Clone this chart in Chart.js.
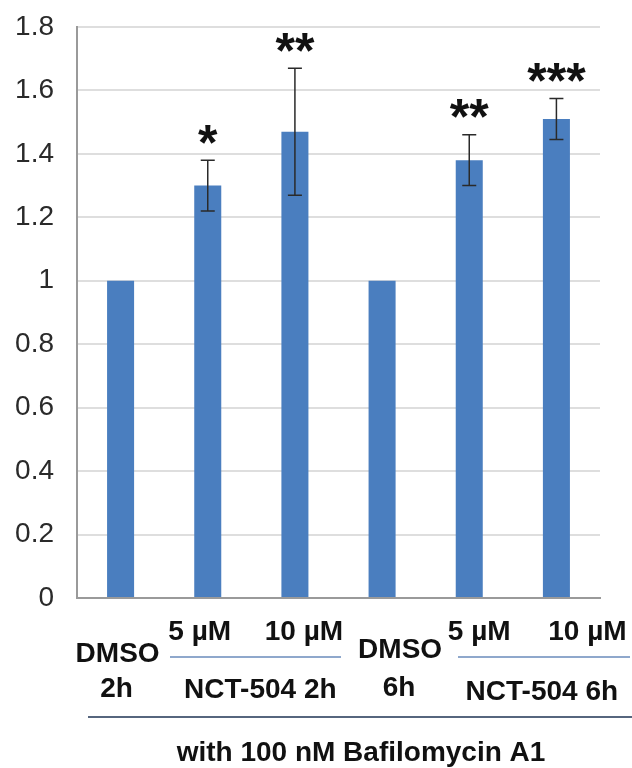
<!DOCTYPE html>
<html>
<head>
<meta charset="utf-8">
<script src="https://cdn.jsdelivr.net/npm/chart.js@4/dist/chart.umd.min.js"></script>
<style>
  html, body { margin: 0; padding: 0; background: #fff; }
  #wrap { width: 632px; height: 768px; }
</style>
</head>
<body>
<div id="wrap"><canvas id="chart" width="632" height="768"></canvas></div>
<script>
// groups along the x axis
const categories = ['DMSO 2h', '5 µM 2h', '10 µM 2h', 'DMSO 6h', '5 µM 6h', '10 µM 6h'];
// relative levels (fold vs DMSO) and their error
const means = [1, 1.30, 1.47, 1, 1.38, 1.51];
const errors = [0, 0.08, 0.2, 0, 0.08, 0.065];
const stars = ['', '*', '**', '', '**', '***'];
const yTicks = [0, 0.2, 0.4, 0.6, 0.8, 1, 1.2, 1.4, 1.6, 1.8];

const FONT = '"Liberation Sans", Arial, Helvetica, sans-serif';
const BLUE = '#4a7ebf';

// error bars + significance stars
const errorBars = {
  id: 'errorBars',
  afterDatasetsDraw(chart) {
    const { ctx, scales: { y } } = chart;
    const meta = chart.getDatasetMeta(0);
    ctx.save();
    ctx.strokeStyle = '#2a2a2a';
    ctx.lineWidth = 1.5;
    meta.data.forEach((bar, i) => {
      const e = errors[i];
      const top = y.getPixelForValue(means[i] + e);
      const bot = y.getPixelForValue(means[i] - e);
      if (e > 0) {
        ctx.beginPath();
        ctx.moveTo(bar.x, top); ctx.lineTo(bar.x, bot);
        ctx.moveTo(bar.x - 7, top); ctx.lineTo(bar.x + 7, top);
        ctx.moveTo(bar.x - 7, bot); ctx.lineTo(bar.x + 7, bot);
        ctx.stroke();
      }
      if (stars[i]) {
        ctx.font = 'bold 50px ' + FONT;
        ctx.fillStyle = '#111';
        ctx.textAlign = 'center';
        ctx.textBaseline = 'alphabetic';
        const m = ctx.measureText(stars[i]);
        const cy = top - 26;
        ctx.fillText(stars[i], bar.x, cy + (m.actualBoundingBoxAscent - m.actualBoundingBoxDescent) / 2);
      }
    });
    ctx.restore();
  }
};

// hand-set category labels under the axis
const groupLabels = {
  id: 'groupLabels',
  afterDraw(chart) {
    const { ctx, scales: { x } } = chart;
    const px = i => x.getPixelForValue(i);
    const mid = (a, b) => (px(a) + px(b)) / 2;
    ctx.save();
    ctx.font = 'bold 28px ' + FONT;
    ctx.fillStyle = '#111';
    ctx.textAlign = 'center';
    ctx.textBaseline = 'middle';
    const texts = [
      ['5 µM', px(1) - 8, 632], ['10 µM', px(2) + 9, 632],
      ['5 µM', px(4) + 10, 632], ['10 µM', px(5) + 31, 632],
      ['DMSO', px(0) - 3, 654], ['2h', px(0) - 4, 689],
      ['DMSO', px(3) + 18, 650], ['6h', px(3) + 17, 688],
      ['NCT-504 2h', mid(1, 2) + 9, 690], ['NCT-504 6h', mid(4, 5) + 29, 692],
      ['with 100 nM Bafilomycin A1', 361, 753]
    ];
    texts.forEach(([t, tx, ty]) => ctx.fillText(t, tx, ty));

    // bracket lines
    ctx.lineWidth = 2;
    ctx.strokeStyle = '#8fa8cc';
    ctx.beginPath();
    ctx.moveTo(170, 657); ctx.lineTo(341, 657);
    ctx.moveTo(458, 657); ctx.lineTo(630, 657);
    ctx.stroke();
    ctx.strokeStyle = '#56667e';
    ctx.beginPath();
    ctx.moveTo(88, 717); ctx.lineTo(632, 717);
    ctx.stroke();
    ctx.restore();
  }
};

new Chart(document.getElementById('chart'), {
  type: 'bar',
  data: {
    labels: categories,
    datasets: [{
      data: means,
      backgroundColor: BLUE,
      borderWidth: 0,
      barPercentage: 0.31,
      categoryPercentage: 1
    }]
  },
  options: {
    responsive: false,
    animation: false,
    layout: { padding: { top: 27, right: 32, bottom: 170, left: 0 } },
    plugins: { legend: { display: false }, tooltip: { enabled: false } },
    scales: {
      x: {
        grid: { display: false },
        border: { display: true, color: '#9a9a9a', width: 2 },
        ticks: { display: false },
        afterFit: s => { s.height = 0; }
      },
      y: {
        min: 0, max: 1.8,
        afterBuildTicks: s => { s.ticks = yTicks.map(v => ({ value: v })); },
        afterFit: s => { s.width = 77; s.paddingTop = 0; s.paddingBottom = 0; },
        grid: { color: '#dedede', lineWidth: 2, drawTicks: false },
        border: { display: true, color: '#9a9a9a', width: 2 },
        ticks: {
          padding: 23,
          color: '#2a2a2a',
          font: { family: FONT, size: 28 },
          callback: v => String(Math.round(v * 10) / 10)
        }
      }
    }
  },
  plugins: [errorBars, groupLabels]
});
</script>
</body>
</html>
